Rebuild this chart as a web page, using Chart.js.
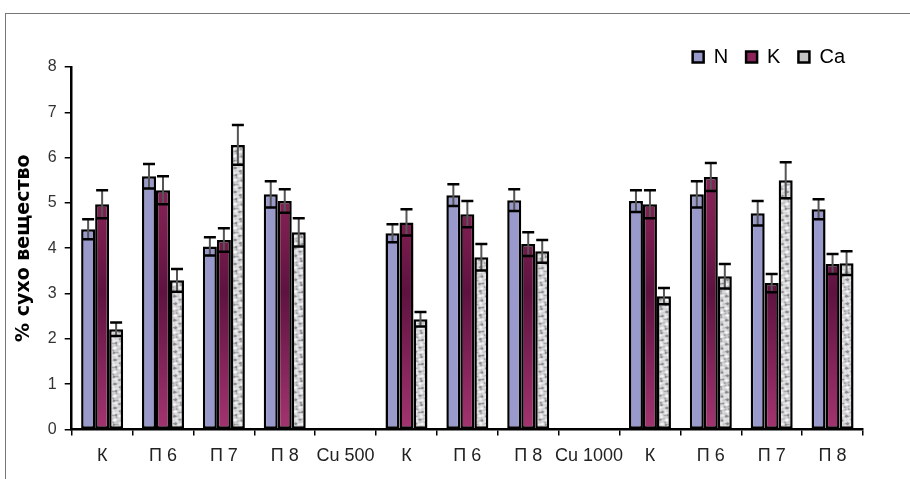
<!DOCTYPE html>
<html>
<head>
<meta charset="utf-8">
<script src="https://cdn.jsdelivr.net/npm/chart.js@4/dist/chart.umd.min.js"></script>
<style>
  body { margin: 0; background: #fff; }
  #wrap { position: relative; width: 910px; height: 479px; }
  #frame { position: absolute; left: 5px; top: 13px; right: -2px; bottom: -2px;
           border-left: 1px solid #777; border-top: 1px solid #777; }
  canvas { position: absolute; left: 0; top: 0; }
</style>
</head>
<body>
<div id="wrap">
  <div id="frame"></div>
  <canvas id="chart" width="910" height="479"></canvas>
</div>
<script>
// categories (empty ones are the Cu 500 / Cu 1000 separators)
var labels = ['К', 'П 6', 'П 7', 'П 8', 'Cu 500', 'К', 'П 6', 'П 8', 'Cu 1000', 'К', 'П 6', 'П 7', 'П 8'];

var N_vals  = [4.42, 5.59, 4.04, 5.19, null, 4.33, 5.17, 5.06, null, 5.04, 5.19, 4.77, 4.86];
var K_vals  = [4.97, 5.28, 4.18, 5.04, null, 4.57, 4.75, 4.09, null, 4.97, 5.57, 3.23, 3.65];
var Ca_vals = [2.21, 3.29, 6.28, 4.35, null, 2.43, 3.80, 3.93, null, 2.94, 3.38, 5.50, 3.67];

// error bar half-lengths
var N_err  = [0.22, 0.27, 0.20, 0.29, null, 0.20, 0.24, 0.24, null, 0.24, 0.29, 0.27, 0.22];
var K_err  = [0.31, 0.31, 0.26, 0.26, null, 0.29, 0.29, 0.26, null, 0.31, 0.31, 0.20, 0.22];
var Ca_err = [0.15, 0.25, 0.44, 0.31, null, 0.16, 0.29, 0.25, null, 0.18, 0.27, 0.40, 0.26];

var yTicks = [0, 1, 2, 3, 4, 5, 6, 7, 8];

// mottled grey texture for Ca
function grayPattern() {
    var n = 24;
    var c = document.createElement('canvas');
    c.width = n; c.height = n;
    var g = c.getContext('2d');
    var img = g.createImageData(n, n);
    var k2 = 2 * Math.PI / n;
    for (var y = 0; y < n; y++) {
        for (var x = 0; x < n; x++) {
            var t = Math.sin(x * k2 * 2 + 1.3) * Math.cos(y * k2 * 3 + 0.4)
                  + 0.7 * Math.sin((x + y) * k2 * 3) * Math.sin((x - 2 * y) * k2 * 2 + 0.9);
            var v = Math.round(210 + 28 * t);
            if (t < -0.9) v = 140;
            else if (t < -0.6) v = 168;
            var k = (y * n + x) * 4;
            img.data[k] = v; img.data[k + 1] = v; img.data[k + 2] = v + 3; img.data[k + 3] = 255;
        }
    }
    g.putImageData(img, 0, 0);
    return g.createPattern(c, 'repeat');
}

function maroonFill(c) {
    var a = c.chart.chartArea;
    if (!a) return '#993366';
    var gr = c.chart.ctx.createLinearGradient(0, a.top, 0, a.bottom);
    gr.addColorStop(0, '#a3306c');
    gr.addColorStop(0.45, '#7a1d4e');
    gr.addColorStop(0.62, '#5e1240');
    gr.addColorStop(1, '#a33470');
    return gr;
}

var errors = [N_err, K_err, Ca_err];

var errorBars = {
    id: 'errorBars',
    afterDatasetsDraw: function(chart) {
        var ctx = chart.ctx, ys = chart.scales.y;
        ctx.save();
        chart.data.datasets.forEach(function(ds, di) {
            var meta = chart.getDatasetMeta(di);
            meta.data.forEach(function(bar, i) {
                var v = ds.data[i], e = errors[di][i];
                if (v == null || e == null) return;
                var x = bar.x, w = bar.width - 2;
                var yt = ys.getPixelForValue(v + e), yb = ys.getPixelForValue(v - e);
                ctx.strokeStyle = '#555';
                ctx.lineWidth = 2;
                ctx.beginPath(); ctx.moveTo(x, yb); ctx.lineTo(x, yt); ctx.stroke();
                ctx.strokeStyle = '#000';
                ctx.lineWidth = 2.5;
                ctx.beginPath();
                ctx.moveTo(x - w / 2, yt); ctx.lineTo(x + w / 2, yt);
                ctx.moveTo(x - w / 2, yb); ctx.lineTo(x + w / 2, yb);
                ctx.stroke();
            });
        });
        ctx.restore();
    }
};

// push the legend down into the empty strip just above the plot
var legendShift = {
    id: 'legendShift',
    afterLayout: function(chart) {
        chart.legend.top += 10;
        chart.legend.bottom += 10;
    }
};

var narrow = "'Liberation Sans Narrow', 'Liberation Sans', Arial, sans-serif";

new Chart(document.getElementById('chart'), {
    type: 'bar',
    data: {
        labels: labels,
        datasets: [
            { label: 'N', data: N_vals, backgroundColor: '#9999cc' },
            { label: 'K', data: K_vals, backgroundColor: maroonFill },
            { label: 'Ca', data: Ca_vals, backgroundColor: grayPattern() }
        ]
    },
    options: {
        responsive: false,
        animation: false,
        layout: { padding: { top: 19, left: 13, right: 47, bottom: 2 } },
        datasets: {
            bar: {
                categoryPercentage: 0.69,
                barPercentage: 1.0,
                borderColor: '#000',
                borderWidth: 2.5,
                borderSkipped: false
            }
        },
        plugins: {
            tooltip: { enabled: false },
            legend: {
                position: 'top',
                align: 'end',
                labels: {
                    boxWidth: 11,
                    boxHeight: 11,
                    padding: 18,
                    color: '#000',
                    font: { family: "'Liberation Sans', Arial, sans-serif", size: 20 },
                    generateLabels: function() {
                        return [
                            { text: 'N', fillStyle: '#9999cc', strokeStyle: '#000', lineWidth: 2.5, datasetIndex: 0 },
                            { text: 'K', fillStyle: '#8a2458', strokeStyle: '#000', lineWidth: 2.5, datasetIndex: 1 },
                            { text: 'Ca', fillStyle: '#c4c4c4', strokeStyle: '#000', lineWidth: 2.5, datasetIndex: 2 }
                        ];
                    }
                }
            }
        },
        scales: {
            x: {
                grid: { display: true, drawOnChartArea: false, offset: true, tickLength: 6, color: '#000', lineWidth: 1.5 },
                border: { display: true, color: '#000', width: 2.5 },
                ticks: { color: '#222', padding: 10, maxRotation: 0, autoSkip: false,
                         font: { family: narrow, size: 18 } }
            },
            y: {
                min: 0,
                max: 8,
                afterBuildTicks: function(s) { s.ticks = yTicks.map(function(v) { return { value: v }; }); },
                grid: { display: true, drawOnChartArea: false, tickLength: 7, color: '#000', lineWidth: 1.5 },
                border: { display: true, color: '#000', width: 2.5 },
                ticks: { color: '#333', padding: 8, font: { family: narrow, size: 16 } },
                title: {
                    display: true,
                    text: '% сухо вещество',
                    color: '#000',
                    padding: { top: 0, bottom: 4 },
                    font: { family: "'DejaVu Sans', sans-serif", size: 19, weight: 'bold' }
                }
            }
        }
    },
    plugins: [errorBars, legendShift]
});
</script>
</body>
</html>
